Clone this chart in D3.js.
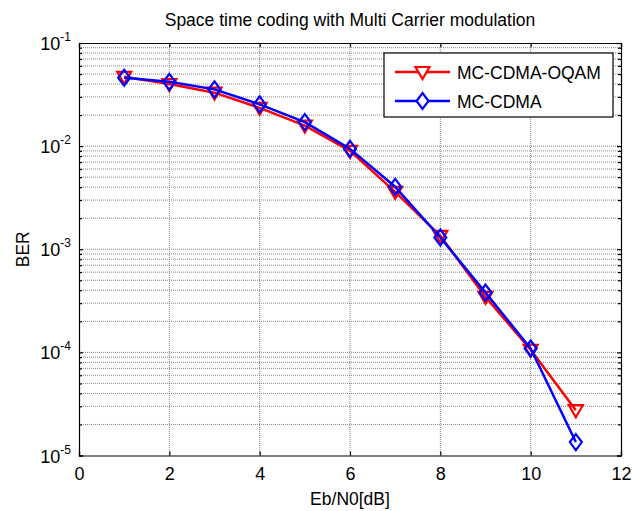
<!DOCTYPE html>
<html>
<head>
<meta charset="utf-8">
<script src="https://cdn.jsdelivr.net/npm/d3@7"></script>
<style>
  body { margin: 0; background: #fff; }
  text { font-family: "Liberation Sans", Arial, sans-serif; fill: #000; }
</style>
</head>
<body>
<div id="chart"></div>
<script>
const snr = [1, 2, 3, 4, 5, 6, 7, 8, 9, 10, 11];
const berOqam = [0.047, 0.040, 0.033, 0.0235, 0.0158, 0.0090, 0.0036, 0.00135, 0.000345, 0.000106, 0.0000275];
const berCdma = [0.046, 0.042, 0.0355, 0.0254, 0.0171, 0.0094, 0.00403, 0.00130, 0.00038, 0.000109, 0.0000135];
const xTicks = [0, 2, 4, 6, 8, 10, 12];
const yExps = [-1, -2, -3, -4, -5];
const seriesNames = ["MC-CDMA-OQAM", "MC-CDMA"];

const width = 633, height = 511;
const margin = { top: 43, right: 12, bottom: 55, left: 79 };
const plotW = 621 - margin.left;
const plotH = 455.5 - margin.top;

const svg = d3.select("#chart").append("svg")
    .attr("width", width)
    .attr("height", height);

const g = svg.append("g")
    .attr("transform", `translate(${margin.left},${margin.top})`);

const x = d3.scaleLinear().domain([0, 12]).range([0, plotW]);
const y = d3.scaleLog().domain([1e-5, 1e-1]).range([plotH, 0]);

// minor values in each decade
const minorVals = [];
for (let e = -5; e < -1; e++) {
    for (let m = 2; m <= 9; m++) minorVals.push(m * Math.pow(10, e));
}
const majorVals = yExps.map(e => Math.pow(10, e));

// grid
g.append("g").selectAll("line.gx")
    .data(xTicks.slice(1, -1))
    .join("line")
    .attr("x1", d => x(d)).attr("x2", d => x(d))
    .attr("y1", 0).attr("y2", plotH)
    .attr("stroke", "#666").attr("stroke-width", 0.8)
    .attr("stroke-dasharray", "1,1");

g.append("g").selectAll("line.gy")
    .data(minorVals.concat(majorVals.slice(1, -1)))
    .join("line")
    .attr("x1", 0).attr("x2", plotW)
    .attr("y1", d => y(d)).attr("y2", d => y(d))
    .attr("stroke", "#666").attr("stroke-width", 0.8)
    .attr("stroke-dasharray", "1,1");

// axes (MATLAB style: inward ticks, box)
const tickLen = 4, minorLen = 3;
const xAxisBottom = d3.axisBottom(x).tickValues(xTicks).tickSize(-tickLen).tickPadding(12).tickFormat(d3.format("d"));
const xAxisTop = d3.axisTop(x).tickValues(xTicks).tickSize(-tickLen).tickFormat("");
const yAxisLeft = d3.axisLeft(y).tickValues(majorVals).tickSize(-tickLen).tickFormat("");
const yAxisRight = d3.axisRight(y).tickValues(majorVals).tickSize(-tickLen).tickFormat("");
const yMinorLeft = d3.axisLeft(y).tickValues(minorVals).tickSize(-minorLen).tickFormat("");
const yMinorRight = d3.axisRight(y).tickValues(minorVals).tickSize(-minorLen).tickFormat("");

function styleAxis(sel) {
    sel.selectAll("path.domain").attr("stroke", "#000").attr("stroke-width", 1.2);
    sel.selectAll(".tick line").attr("stroke", "#000").attr("stroke-width", 1.2);
}

g.append("g").attr("transform", `translate(0,${plotH})`).call(xAxisBottom)
    .call(styleAxis)
    .call(s => s.selectAll(".tick text").attr("font-size", 18).attr("font-family", "Liberation Sans, Arial, sans-serif"));
g.append("g").call(xAxisTop).call(styleAxis);
g.append("g").call(yAxisLeft).call(styleAxis);
g.append("g").call(yMinorLeft).call(styleAxis).call(s => s.select("path.domain").remove());
g.append("g").attr("transform", `translate(${plotW},0)`).call(yAxisRight).call(styleAxis);
g.append("g").attr("transform", `translate(${plotW},0)`).call(yMinorRight).call(styleAxis).call(s => s.select("path.domain").remove());

// y labels 10^e
const yLab = g.append("g").selectAll("text.ylab")
    .data(yExps)
    .join("text")
    .attr("x", -8)
    .attr("y", d => y(Math.pow(10, d)) + 7)
    .attr("text-anchor", "end")
    .attr("font-size", 18);
yLab.append("tspan").text("10");
yLab.append("tspan").attr("dy", -9).attr("font-size", 12).text(d => String(d));

// series
const line = d3.line().x(d => x(d[0])).y(d => y(d[1]));
const series = [
    { name: seriesNames[0], color: "#ff0000", marker: "tri", values: snr.map((s, i) => [s, berOqam[i]]) },
    { name: seriesNames[1], color: "#0000ff", marker: "dia", values: snr.map((s, i) => [s, berCdma[i]]) }
];

function markerPath(type) {
    if (type === "tri") return "M-7,-5 L7,-5 L0,7 Z";
    return "M0,-8 L6,0 L0,8 L-6,0 Z";
}

series.forEach(s => {
    g.append("path")
        .datum(s.values)
        .attr("fill", "none")
        .attr("stroke", s.color)
        .attr("stroke-width", 2.5)
        .attr("stroke-linejoin", "round")
        .attr("d", line);
    g.append("g").selectAll("path.mk")
        .data(s.values)
        .join("path")
        .attr("transform", d => `translate(${x(d[0])},${y(d[1])})`)
        .attr("d", markerPath(s.marker))
        .attr("fill", "none")
        .attr("stroke", s.color)
        .attr("stroke-width", 2.2);
});

// legend
const leg = svg.append("g").attr("transform", "translate(384,53)");
leg.append("rect")
    .attr("width", 229).attr("height", 64)
    .attr("fill", "#fff").attr("stroke", "#000").attr("stroke-width", 1.2);
series.forEach((s, i) => {
    const ly = 19 + i * 29;
    leg.append("line")
        .attr("x1", 11).attr("x2", 66).attr("y1", ly).attr("y2", ly)
        .attr("stroke", s.color).attr("stroke-width", 2.5);
    leg.append("path")
        .attr("transform", `translate(38.5,${ly})`)
        .attr("d", markerPath(s.marker))
        .attr("fill", "#fff").attr("stroke", s.color).attr("stroke-width", 2.2);
    leg.append("text")
        .attr("x", 73).attr("y", ly + 6.5)
        .attr("font-size", 17.5)
        .text(s.name);
});

// title and axis labels
svg.append("text")
    .attr("x", margin.left + plotW / 2).attr("y", 26)
    .attr("text-anchor", "middle").attr("font-size", 17.5)
    .text("Space time coding with Multi Carrier modulation");
svg.append("text")
    .attr("x", margin.left + plotW / 2).attr("y", 505)
    .attr("text-anchor", "middle").attr("font-size", 17.5)
    .text("Eb/N0[dB]");
svg.append("text")
    .attr("transform", `translate(29,${margin.top + plotH / 2}) rotate(-90)`)
    .attr("text-anchor", "middle").attr("font-size", 17.5)
    .text("BER");
</script>
</body>
</html>
